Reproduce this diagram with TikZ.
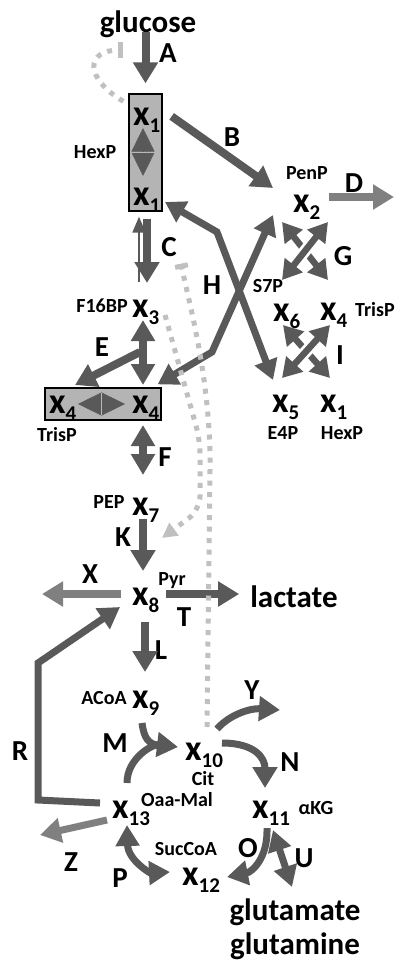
\documentclass[tikz,border=0pt]{standalone}
\usepackage{fontspec}
\setmainfont{Carlito}
\usetikzlibrary{arrows.meta,positioning}

\definecolor{fluxgray}{RGB}{89,89,89}
\definecolor{outgray}{RGB}{128,128,128}
\definecolor{reggray}{RGB}{192,192,192}
\definecolor{poolgray}{RGB}{180,180,180}

\newcommand{\mx}[1]{{\fontsize{36}{36}\selectfont x}\raisebox{-7pt}{\fontsize{21}{21}\selectfont #1}}

\begin{document}
\begin{tikzpicture}[x=1pt,y=-1pt,font=\bfseries,
    met/.style={inner sep=0pt,anchor=base west},
    pool/.style={draw=black,line width=1.3pt,fill=poolgray,inner sep=0pt},
    tag/.style={inner sep=0pt,font=\fontsize{20}{20}\selectfont\bfseries},
    rlab/.style={inner sep=0pt,font=\fontsize{29}{29}\selectfont\bfseries},
    ext/.style={inner sep=0pt,anchor=base,font=\fontsize{31}{31}\selectfont\bfseries},
    flux/.style={draw=fluxgray,line width=8pt,-{Triangle[length=21pt,width=24pt]}},
    dflux/.style={draw=fluxgray,line width=8pt,{Triangle[length=21pt,width=23pt]}-{Triangle[length=21pt,width=23pt]}},
    hflux/.style={draw=fluxgray,line width=7pt,{Triangle[length=20pt,width=23pt]}-{Triangle[length=20pt,width=23pt]}},
    xflux/.style={draw=fluxgray,line width=6.5pt,{Triangle[length=19pt,width=22pt]}-{Triangle[length=19pt,width=22pt]}},
    xchg/.style={draw=fluxgray,line width=0.5pt,{Triangle[length=23.5pt,width=23pt]}-{Triangle[length=23.5pt,width=23pt]}},
    thinflux/.style={draw=fluxgray,line width=1.8pt,-{Triangle[length=16pt,width=13pt]}},
    fluxline/.style={draw=fluxgray,line width=7pt},
    cross/.style={preaction={draw=white,line width=12pt,-,shorten <=24pt,shorten >=24pt}},
    sepline/.style={draw=gray!55,line width=1.2pt},
    reg/.style={draw=reggray,line width=5pt,dash pattern=on 5pt off 6.5pt}]

\useasboundingbox (0,0) rectangle (398,961);

% pools and metabolites
\node[ext] (glucose) at (148,32) {glucose};
\node[pool,minimum width=33pt,minimum height=117pt] (hexbox) at (145.5,152.5) {};
\node[met] (x1a) at (133,125) {\mx{1}};
\node[met] (x1b) at (133,205) {\mx{1}};
\node[tag,left=12pt of hexbox] (hexp) {HexP};
\node[met] (x2) at (293,212) {\mx{2}};
\node[tag] (penp) at (307,173) {PenP};
\node[met] (x3) at (132,317) {\mx{3}};
\node[tag] (f16bp) at (102,306) {F16BP};
\node[pool,minimum width=116pt,minimum height=32pt] (trisbox) at (103,404) {};
\node[met] (x4a) at (49,413) {\mx{4}};
\node[met] (x4b) at (132,413) {\mx{4}};
\node[tag] (trisp) at (57,435) {TrisP};
\node[met] (x6) at (273,321) {\mx{6}};
\node[tag] (s7p) at (268,286) {S7P};
\node[met] (x4c) at (320,320) {\mx{4}};
\node[tag] (trisp2) at (375,310) {TrisP};
\node[met] (x5) at (272,412) {\mx{5}};
\node[tag] (e4p) at (283,433) {E4P};
\node[met] (x1c) at (320,412) {\mx{1}};
\node[tag] (hexp2) at (342,433) {HexP};
\node[met] (x7) at (132,515) {\mx{7}};
\node[tag] (pep) at (109,502) {PEP};
\node[met] (x8) at (132,605) {\mx{8}};
\node[tag] (pyr) at (172,581) {Pyr};
\node[ext] (lactate) at (294,607) {lactate};
\node[met] (x9) at (132,708) {\mx{9}};
\node[tag] (acoa) at (104,698) {ACoA};
\node[met] (x10) at (185,760) {\mx{10}};
\node[tag] (cit) at (203,779) {Cit};
\node[met] (x11) at (252,818) {\mx{11}};
\node[tag] (akg) at (316,808) {αKG};
\node[met] (x12) at (182,885) {\mx{12}};
\node[tag] (succoa) at (186,849) {SucCoA};
\node[met] (x13) at (112,818) {\mx{13}};
\node[tag] (oaamal) at (177,800) {Oaa-Mal};
\node[ext] (glutamate) at (295,920) {glutamate};
\node[ext] (glutamine) at (295,954) {glutamine};

\coordinate (dout) at (394,197);
\coordinate (xout) at (42,594);
\coordinate (zout) at (40,835);
\coordinate (yout) at (280,710);

% reaction names
\foreach \r/\x/\y in {A/168/53, B/232/137, C/169/247, D/354/183, E/102/347,
    F/165/457, G/343/256, H/212/285, I/340/355, K/123/537, L/161/650,
    M/115/743, N/290/762, O/248/848, P/120/878, R/20/751, T/184/617,
    U/304/858, X/90/574, Y/252/690, Z/71/862}
  \node[rlab] (r\r) at (\x,\y) {\r};

% exchange inside the pools
\draw[xchg] ([shift={(10,3)}]x1a.base west) -- ([shift={(10,-29)}]x1b.base west);
\draw[sepline] ([shift={(-14.5,0)}]hexbox.center) -- ([shift={(9.5,0)}]hexbox.center);
\draw[xchg] ([shift={(29,-9)}]x4a.base west) -- ([shift={(-7,-9)}]x4b.base west);
\draw[sepline] ([shift={(-1.5,-11)}]trisbox.center) -- ([shift={(-1.5,11)}]trisbox.center);

% glycolysis
\draw[flux,shorten >=10pt] (glucose.base -| hexbox.north) -- (hexbox.north);
\draw[flux] ([shift={(1.5,7)}]hexbox.south) -- ([shift={(15,-34)}]x3.base west);
\draw[thinflux] ([shift={(7,-35)}]x3.base west) -- ([shift={(-6.5,5)}]hexbox.south);
\draw[dflux] ([shift={(11,3)}]x3.base west) -- ([shift={(11,-28)}]x4b.base west);
\draw[flux] ([shift={(8,35)}]x3.base west) -- ([shift={(26,-28)}]x4a.base west);
\draw[dflux] ([shift={(11,12)}]x4b.base west) -- ([shift={(11,-40)}]x7.base west);
\draw[flux] ([shift={(11,4)}]x7.base west) -- ([shift={(11,-34)}]x8.base west);
\draw[flux,draw=outgray] ([shift={(-11,-11)}]x8.base west) -- (xout);
\draw[flux] ([shift={(34,-11)}]x8.base west) -- ([shift={(-11,-13)}]lactate.base west);
\draw[flux] ([shift={(13,17)}]x8.base west) -- ([shift={(13,-36)}]x9.base west);

% pentose phosphate
\draw[flux] ([shift={(9,23)}]hexbox.north east) -- ([shift={(-20,-24)}]x2.base west);
\draw[flux,draw=outgray] ([shift={(36,-15)}]x2.base west) -- (dout);
\draw[hflux] ([shift={(32,-3)}]x1b.base west) -- (217,232) -- ([shift={(1,-32)}]x5.base west);
\draw[hflux] ([shift={(-20,3)}]x2.base west) -- (212,352) -- ([shift={(-4,-3)}]trisbox.north east);
\draw[xflux] ([shift={(-11,10)}]x2.base west) -- ([shift={(8,-40)}]x4c.base west);
\draw[xflux,cross] ([shift={(35,10)}]x2.base west) -- ([shift={(9,-41)}]x6.base west);
\draw[xflux] ([shift={(10,4)}]x6.base west) -- ([shift={(10,-34)}]x1c.base west);
\draw[xflux,cross] ([shift={(10,5)}]x4c.base west) -- ([shift={(10,-34)}]x5.base west);

% TCA cycle
\draw[flux,line width=7pt] ([shift={(-12,-15)}]x13.base west) -- (38,800) -- (38,663) -- ([shift={(-12,2)}]x8.base west);
\draw[fluxline] ([shift={(10,15)}]x9.base west) .. controls +(2,15) and +(-12,-2) .. ([shift={(-25,-14)}]x10.base west);
\draw[flux,line width=7pt] ([shift={(15,-35)}]x13.base west) .. controls +(0,-25) and +(-25,-3) .. ([shift={(-7,-13)}]x10.base west);
\draw[flux,line width=7pt] ([shift={(32,-31)}]x10.base west) .. controls +(12,-14) and +(-30,-2) .. (yout);
\draw[flux,line width=7pt] ([shift={(37,-17)}]x10.base west) .. controls +(33,0) and +(0,-30) .. ([shift={(13,-30)}]x11.base west);
\draw[flux,line width=7pt] ([shift={(15,10)}]x11.base west) .. controls +(1,30) and +(25,-5) .. ([shift={(45,-8)}]x12.base west);
\draw[dflux,line width=7pt] ([shift={(21,12)}]x11.base west) -- ([shift={(-3,-33)}]glutamate.base);
\draw[dflux,line width=7pt] ([shift={(15,7)}]x13.base west) .. controls +(1,35) and +(-20,1) .. ([shift={(-12,-13)}]x12.base west);
\draw[flux,draw=outgray,line width=7pt] ([shift={(-5,2)}]x13.base west) -- (zout);

% regulation
\draw[reg,-{Bar[width=16pt]}] ([shift={(-5,8)}]hexbox.north west) .. controls +(-40,-24) and +(-37,0) .. ([shift={(-25,18)}]glucose.base);
\draw[reg,-{Bar[width=13pt]}] ([shift={(22,-33)}]x10.base west) -- (210,470) .. controls (211,380) and (189,303) .. ([shift={(35.5,52)}]hexbox.south);
\draw[reg,rounded corners=14pt,-{Triangle[length=15pt,width=15pt]}] ([shift={(33,-2)}]x3.base west) -- (200,440) -- (200,510) -- ([shift={(30,23)}]x7.base west);

\end{tikzpicture}
\end{document}
